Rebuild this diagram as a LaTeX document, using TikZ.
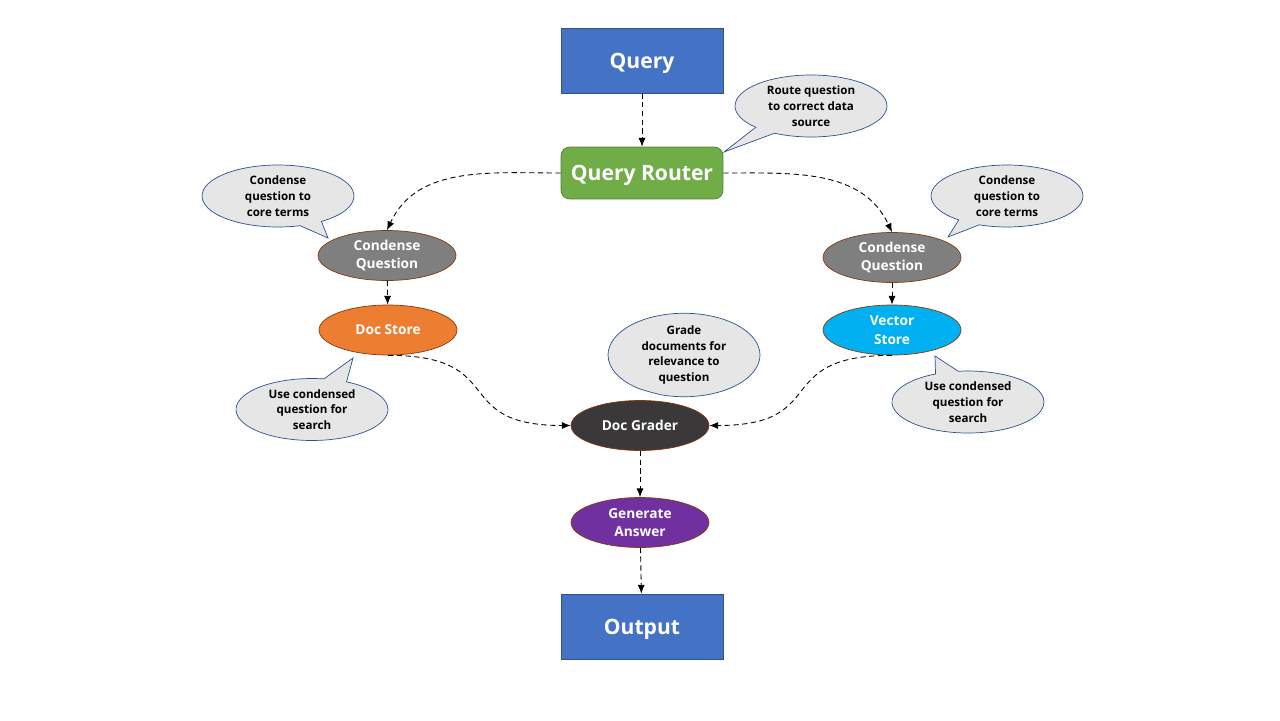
\documentclass[tikz,border=0pt]{standalone}
\usepackage{fontspec}
\setmainfont{Open Sans}
\usepackage{tikz}
\usetikzlibrary{shapes.geometric,shapes.callouts,arrows.meta}
\definecolor{boxblue}{HTML}{4472C4}
\definecolor{boxblueline}{HTML}{2F528F}
\definecolor{routergreen}{HTML}{70AD47}
\definecolor{routerline}{HTML}{507E32}
\definecolor{condgray}{HTML}{7F7F7F}
\definecolor{docorange}{HTML}{ED7D31}
\definecolor{vecblue}{HTML}{00B0F0}
\definecolor{graderdark}{HTML}{3A3838}
\definecolor{genpurple}{HTML}{7030A0}
\definecolor{ovalline}{HTML}{843C0C}
\definecolor{notefill}{HTML}{E7E6E6}

\begin{document}
\begin{tikzpicture}[x=0.02cm,y=-0.02cm,
  endbox/.style={rectangle,draw=boxblueline,fill=boxblue,text=white,
    minimum width=3.24cm,minimum height=1.3cm,text depth=0pt,
    font=\fontsize{12}{14}\selectfont\bfseries},
  oval/.style={ellipse,draw=ovalline,line width=0.4pt,text=white,inner sep=0pt,
    minimum width=2.76cm,minimum height=1.0cm,align=center,
    font=\fontsize{7.8}{10.6}\selectfont\bfseries},
  note/.style={ellipse callout,draw=boxblueline,fill=notefill,inner sep=0pt,
    minimum width=3.04cm,minimum height=1.24cm,align=center,
    callout pointer arc=18,
    font=\fontsize{6.6}{9}\selectfont\bfseries},
  flow/.style={densely dashed,line width=0.5pt,-{Latex[length=5pt,width=4pt]}}]
\fill[white] (0,0) rectangle (1280,720);
\useasboundingbox (0,0) rectangle (1280,720);

% main column
\node[endbox] (query) at (642,60.5) {Query};
\node[rectangle,rounded corners=5pt,draw=routerline,fill=routergreen,text=white,
  minimum width=3.24cm,minimum height=1.04cm,text depth=0pt,
  font=\fontsize{12}{14}\selectfont\bfseries] (router) at (642,173) {Query Router};
\node[oval,fill=condgray,yshift=-0.03cm] (condL) at (387,254) {Condense\\Question};
\node[oval,fill=docorange] (docstore) at (388,330) {Doc Store};
\node[oval,fill=condgray,yshift=-0.03cm] (condR) at (892,256) {Condense\\Question};
\node[oval,fill=vecblue] (vecstore) at (892,330) {Vector\\Store};
\node[oval,fill=graderdark] (grader) at (640,425.5) {Doc Grader};
\node[oval,fill=genpurple] (answer) at (640,522.5) {Generate\\Answer};
\node[endbox] (output) at (642,626.5) {Output};

% callouts
\node[note,callout absolute pointer={(724,152)}] (noteRouter) at (811,106)
  {Route question\\to correct data\\source};
\node[note,callout absolute pointer={(328,238)}] (noteCondL) at (278,196)
  {Condense\\question to\\core terms};
\node[note,callout absolute pointer={(948,237)}] (noteCondR) at (1007,196)
  {Condense\\question to\\core terms};
\node[note,callout absolute pointer={(353,358)}] (noteDoc) at (312,409.5)
  {Use condensed\\question for\\search};
\node[note,callout absolute pointer={(935,356)}] (noteVec) at (968,402)
  {Use condensed\\question for\\search};
\node[note,callout absolute pointer={(650,392)}] (noteGrade) at (684,355)
  {Grade\\documents for\\relevance to\\question};

% connectors
\draw[flow] (query) -- (router);
\draw[flow] (router.west) to[out=180,in=65] (condL.north);
\draw[flow] (router.east) to[out=0,in=115] (condR.north);
\draw[flow] (condL) -- (docstore);
\draw[flow] (condR) -- (vecstore);
\draw[flow] (docstore.south) to[out=0,in=180,looseness=1.6] (grader.west);
\draw[flow] (vecstore.south) to[out=180,in=0,looseness=1.6] (grader.east);
\draw[flow] (grader) -- (answer);
\draw[flow] (answer) -- (output);
\end{tikzpicture}
\end{document}
